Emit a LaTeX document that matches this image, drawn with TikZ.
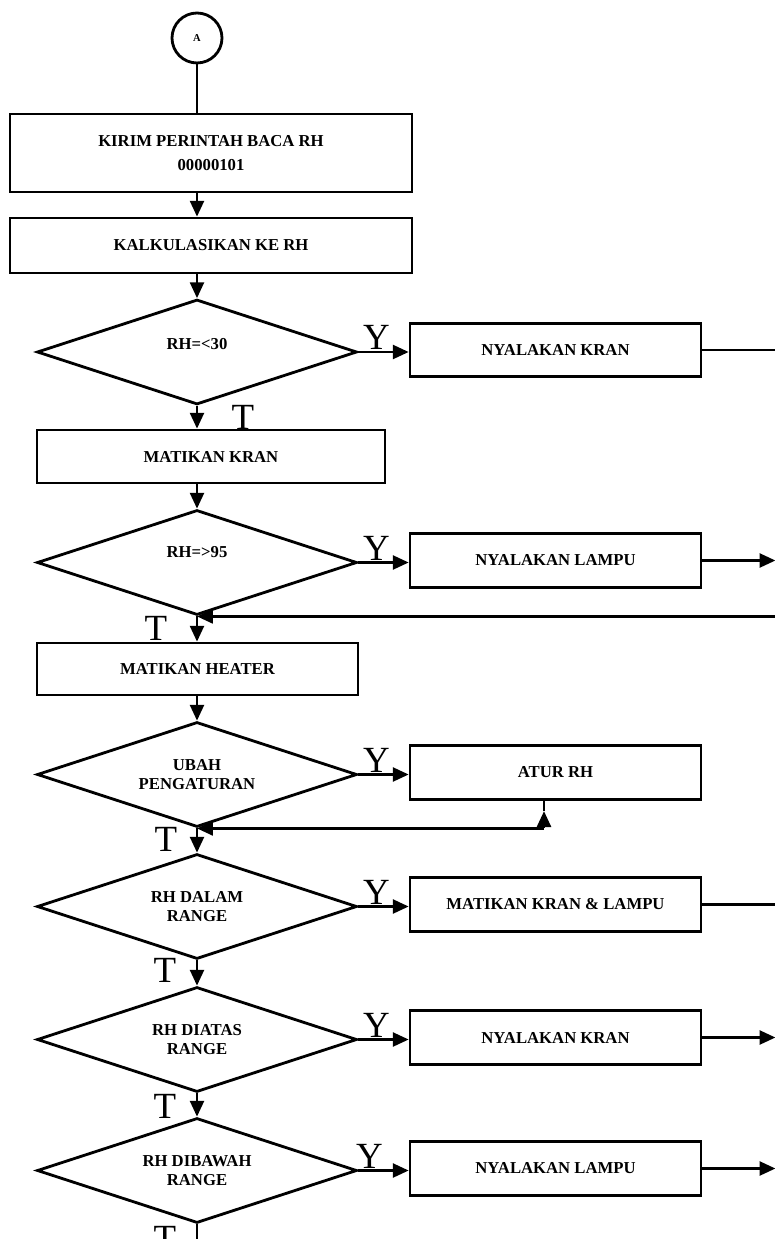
\documentclass[tikz,border=0pt]{standalone}
\usepackage{fontspec}
\setmainfont{Liberation Serif}
\usepackage{tikz}
\usetikzlibrary{calc,shapes.geometric,arrows.meta}

\begin{document}
\begin{tikzpicture}[x=0.02cm,y=-0.02cm]
        \tikzstyle{every node}=[inner sep=0pt, align=center, font=\bfseries\fontsize{9.5}{11}\selectfont]
        \tikzstyle{proc}=[draw, rectangle, line width=1.6pt]
        \tikzstyle{side}=[proc, minimum width=5.82cm, minimum height=1.07cm]
        \tikzstyle{cond}=[draw, diamond, aspect=3, line width=1.6pt, minimum width=6.4cm, minimum height=2.1cm]
        \tikzstyle{arr}=[line width=1.3pt, -{Triangle[length=9pt,width=8pt]}]
        \tikzstyle{lin}=[line width=1.3pt]
        \tikzstyle{yt}=[font=\fontsize{21}{21}\selectfont]
            \useasboundingbox (0,0) rectangle (774,1239);

            \node[draw, circle, line width=1.6pt, minimum size=1cm, font=\bfseries\fontsize{6}{7}\selectfont] (A) at (197,38) {A};
            \node[proc, minimum width=8.04cm, minimum height=1.56cm] (kirim) at ($(A)+(14,115)$) {KIRIM PERINTAH BACA RH\\[3pt]00000101};
            \node[proc, minimum width=8.04cm, minimum height=1.1cm] (kalk) at ($(kirim)+(0,92.5)$) {KALKULASIKAN KE RH};

            \node[cond] (d1) at ($(kalk)+(-14,106.5)$) {};
            \node (t1) at ($(d1)+(0,-8)$) {RH=<30};
            \node[side] (kran1) at ($(d1)+(358.5,-2)$) {NYALAKAN KRAN};
            \node[proc, minimum width=6.96cm, minimum height=1.06cm] (mkran) at ($(d1)+(14,104.5)$) {MATIKAN KRAN};

            \node[cond] (d2) at ($(mkran)+(-14,106)$) {};
            \node (t2) at ($(d2)+(0,-10)$) {RH=>95};
            \node[side] (lampu1) at ($(d2)+(358.5,-2)$) {NYALAKAN LAMPU};
            \node[proc, minimum width=6.42cm, minimum height=1.04cm] (heater) at ($(d2)+(0.5,106.5)$) {MATIKAN HEATER};

            \node[cond] (d3) at ($(heater)+(-0.5,105.5)$) {UBAH\\PENGATURAN};
            \node[side] (atur) at ($(d3)+(358.5,-2)$) {ATUR RH};

            \node[cond] (d4) at ($(d3)+(0,132)$) {RH DALAM\\RANGE};
            \node[side] (kranlampu) at ($(d4)+(358.5,-2)$) {MATIKAN KRAN \& LAMPU};

            \node[cond] (d5) at ($(d4)+(0,133)$) {RH DIATAS\\RANGE};
            \node[side] (kran2) at ($(d5)+(358.5,-2)$) {NYALAKAN KRAN};

            \node[cond] (d6) at ($(d5)+(0,131)$) {RH DIBAWAH\\RANGE};
            \node[side] (lampu2) at ($(d6)+(358.5,-2)$) {NYALAKAN LAMPU};

            \coordinate (e1) at ($(kran1.east)+(73,0)$);
            \coordinate (r2) at (d2.south -| e1);
            \coordinate (c3) at ($(d3.south)+(347,0)$);
            \coordinate (end) at (d6.south |- 0,1239);

            \draw[lin] (A) -- (kirim.north -| A);
            \draw[arr] (kirim.south -| A) -- (kalk.north -| A);
            \draw[arr] (kalk.south -| A) -- (d1.north);

            \draw[arr] (d1.east) -- (d1.east -| kran1.west);
            \draw[lin] (kran1.east) -- (e1);
            \draw[arr] (d1.south) -- (mkran.north -| d1);
            \draw[arr] (mkran.south -| d2) -- (d2.north);

            \draw[arr] (d2.east) -- (d2.east -| lampu1.west);
            \draw[arr] (lampu1.east) -- (lampu1.east -| e1);
            \draw[arr] (r2) -- (d2.south);
            \draw[arr] (d2.south) -- (heater.north -| d2);
            \draw[arr] (heater.south -| d3) -- (d3.north);

            \draw[arr] (d3.east) -- (d3.east -| atur.west);
            \draw[arr] (c3) -- ([yshift=-6pt]c3 |- atur.south);
            \draw[lin] ([yshift=-6pt]c3 |- atur.south) -- (c3 |- atur.south);
            \draw[arr] (c3) -- (d3.south);
            \draw[arr] (d3.south) -- (d4.north);

            \draw[arr] (d4.east) -- (d4.east -| kranlampu.west);
            \draw[lin] (kranlampu.east) -- (kranlampu.east -| e1);
            \draw[arr] (d4.south) -- (d5.north);

            \draw[arr] (d5.east) -- (d5.east -| kran2.west);
            \draw[arr] (kran2.east) -- (kran2.east -| e1);
            \draw[arr] (d5.south) -- (d6.north);

            \draw[arr] (d6.east) -- (d6.east -| lampu2.west);
            \draw[arr] (lampu2.east) -- (lampu2.east -| e1);
            \draw[lin] (d6.south) -- (end);

            \node[yt, anchor=south] (y1) at ($(d1.east)+(18,-2)$) {Y};
            \node[yt, anchor=south] (y2) at ($(d2.east)+(18,-2)$) {Y};
            \node[yt, anchor=south] (y3) at ($(d3.east)+(18,-2)$) {Y};
            \node[yt, anchor=south] (y4) at ($(d4.east)+(18,-2)$) {Y};
            \node[yt, anchor=south] (y5) at ($(d5.east)+(18,-2)$) {Y};
            \node[yt, anchor=south] (y6) at ($(d6.east)+(11,-2)$) {Y};

            \node[yt] (n1) at ($(d1.south)+(46,12)$) {T};
            \node[yt] (n2) at ($(d2.south)+(-41,12)$) {T};
            \node[yt] (n3) at ($(d3.south)+(-31,11)$) {T};
            \node[yt] (n4) at ($(d4.south)+(-32,10)$) {T};
            \node[yt] (n5) at ($(d5.south)+(-32,13)$) {T};
            \node[yt] (n6) at ($(d6.south)+(-32,14)$) {T};

        \end{tikzpicture}
\end{document}
